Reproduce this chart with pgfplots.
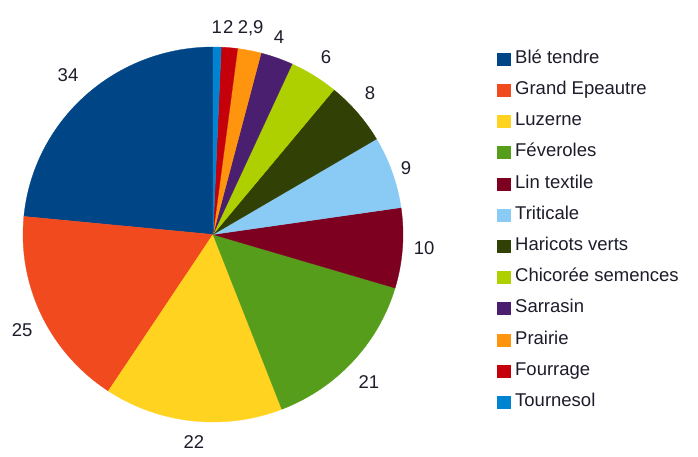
\documentclass[border=0pt]{standalone}
\usepackage{pgfplots}
\usepackage{pgfplotstable}
\pgfplotsset{compat=1.18}
\usepackage{fontspec}
\setmainfont{Liberation Sans}
\definecolor{c1}{HTML}{004586}
\definecolor{c2}{HTML}{F04A1E}
\definecolor{c3}{HTML}{FFD320}
\definecolor{c4}{HTML}{579D1C}
\definecolor{c5}{HTML}{7E0021}
\definecolor{c6}{HTML}{8ACBF5}
\definecolor{c7}{HTML}{314004}
\definecolor{c8}{HTML}{AECF00}
\definecolor{c9}{HTML}{4B1F6F}
\definecolor{c10}{HTML}{FF950E}
\definecolor{c11}{HTML}{C5000B}
\definecolor{c12}{HTML}{0084D1}
\definecolor{txt}{HTML}{1C1C2A}

\pgfplotstableread[col sep=semicolon]{
value;color;name;lab;lx;ly
34;c1;Blé tendre;34;-0.763;0.851
25;c2;Grand Epeautre;25;-1.005;-0.509
22;c3;Luzerne;22;-0.100;-1.107
21;c4;Féveroles;21;0.821;-0.787
10;c5;Lin textile;10;1.111;-0.072
9;c6;Triticale;9;1.016;0.355
8;c7;Haricots verts;8;0.826;0.755
6;c8;Chicorée semences;6;0.595;0.947
4;c9;Sarrasin;4;0.347;1.053
2.9;c10;Prairie;2,9;0.198;1.101
2;c11;Fourrage;2;0.081;1.107
1;c12;Tournesol;1;0.020;1.107
}\piedata

\begin{document}
\begin{tikzpicture}
\path[use as bounding box] (0,0) rectangle (698pt,456pt);
\begin{axis}[
  at={(213pt,221.5pt)}, anchor=center,
  hide axis, scale only axis,
  width=380pt, height=375pt,
  xmin=-1, xmax=1, ymin=-1, ymax=1,
  clip=false,
  legend cell align=left,
  legend image code/.code={\fill[#1] (0pt,-6pt) rectangle (13pt,6pt);},
  legend style={
    at={(1.247,0.991)}, anchor=north west,
    draw=none, fill=none, inner sep=0pt, outer sep=0pt,
    font=\fontsize{18.5}{20}\selectfont, text=txt,
    row sep=14.2pt, column sep=5pt,
    nodes={inner sep=0pt, text height=13pt, text depth=4pt},
  },
]
\pgfmathsetmacro\pieCum{0}
\pgfplotsforeachungrouped \i in {0,...,11}{%
  \pgfplotstablegetelem{\i}{value}\of\piedata \let\pieV\pgfplotsretval
  \pgfplotstablegetelem{\i}{color}\of\piedata \let\pieCol\pgfplotsretval
  \pgfplotstablegetelem{\i}{name}\of\piedata \let\pieName\pgfplotsretval
  \pgfplotstablegetelem{\i}{lab}\of\piedata \let\pieLab\pgfplotsretval
  \pgfplotstablegetelem{\i}{lx}\of\piedata \let\pieLx\pgfplotsretval
  \pgfplotstablegetelem{\i}{ly}\of\piedata \let\pieLy\pgfplotsretval
  \pgfmathsetmacro\pieA{90+\pieCum/144.9*360}
  \pgfmathsetmacro\pieCum{\pieCum+\pieV}
  \pgfmathsetmacro\pieB{90+\pieCum/144.9*360}
  \edef\doplot{%
    \noexpand\addplot[fill=\pieCol, draw=\pieCol, line width=0.3pt,
      domain=\pieA:\pieB, samples=60]
      ({cos(x)},{sin(x)}) -- (axis cs:0,0) -- cycle;
    \noexpand\addlegendentry{\pieName}
    \noexpand\node[font=\noexpand\fontsize{18.5}{20}\noexpand\selectfont,
      text=txt, inner sep=0pt] at (axis cs:\pieLx,\pieLy) {\pieLab};
  }%
  \doplot
}
\end{axis}
\end{tikzpicture}
\end{document}
